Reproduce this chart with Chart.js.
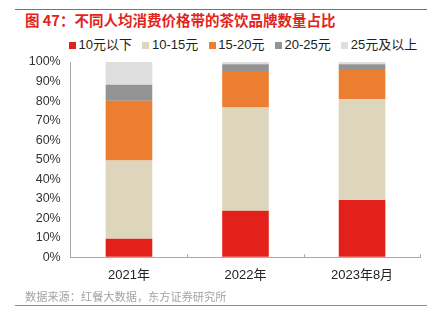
<!DOCTYPE html>
<html>
<head>
<meta charset="utf-8">
<script src="https://cdn.jsdelivr.net/npm/chart.js@4/dist/chart.umd.min.js"></script>
<style>
    body { margin: 0; background: #fff; font-family: "Liberation Sans", "Noto Sans CJK SC", sans-serif; }
    #wrap { position: relative; width: 443px; height: 323px; overflow: hidden; }
    #chart { position: absolute; left: 0; top: 0; }
    .rule { position: absolute; left: 15px; width: 412px; height: 1px; }
    #title { position: absolute; left: 25px; top: 10px; font: bold 14.5px "Noto Sans CJK SC", sans-serif; color: #e3241c; line-height: 20px; white-space: nowrap; }
    #legend { position: absolute; left: 69px; top: 37px; display: flex; font-size: 13px; color: #222; line-height: 16px; white-space: nowrap; }
    #legend span.item { display: flex; align-items: center; margin-right: 10.5px; }
    #legend i { display: inline-block; width: 7px; height: 7px; margin-right: 2.5px; }
    #source { position: absolute; left: 25px; top: 288px; font: 11.2px "Noto Sans CJK SC", sans-serif; color: #a3a3a3; line-height: 16px; white-space: nowrap; }
</style>
</head>
<body>
<div id="wrap">
    <div class="rule" style="top:9px;background:#e5453c;"></div>
    <div id="title">图 47：不同人均消费价格带的茶饮品牌数量占比</div>
    <div id="legend"></div>
    <canvas id="chart" width="443" height="323"></canvas>
    <div id="source">数据来源：红餐大数据，东方证券研究所</div>
    <div class="rule" style="top:305px;background:#ec6a64;"></div>
</div>
<script>
// categories and shares (%) per price band
const categories = ['2021年', '2022年', '2023年8月'];
const bandNames = ['10元以下', '10-15元', '15-20元', '20-25元', '25元及以上'];
const bandColors = ['#e2211a', '#ded5bd', '#ec7e31', '#939393', '#dedede'];
const under10 = [9.5, 23.8, 29.3];
const from10to15 = [40.1, 52.9, 51.6];
const from15to20 = [30.5, 18.7, 15.5];
const from20to25 = [8.3, 3.4, 2.4];
const over25 = [11.6, 1.2, 1.2];
const yTicks = [0, 10, 20, 30, 40, 50, 60, 70, 80, 90, 100];

const bandValues = [under10, from10to15, from15to20, from20to25, over25];

// legend
const legend = document.getElementById('legend');
bandNames.forEach((name, i) => {
    const item = document.createElement('span');
    item.className = 'item';
    item.innerHTML = '<i style="background:' + bandColors[i] + '"></i>' + name;
    legend.appendChild(item);
});

// short upward tick marks on the category boundaries
const boundaryTicks = {
    id: 'boundaryTicks',
    afterDraw(chart) {
        const x = chart.scales.x;
        const ctx = chart.ctx;
        const step = (x.right - x.left) / categories.length;
        ctx.save();
        ctx.strokeStyle = '#a9a9a9';
        ctx.lineWidth = 1;
        for (let i = 1; i <= categories.length; i++) {
            const px = Math.round(x.left + i * step) + 0.5;
            ctx.beginPath();
            ctx.moveTo(px, x.top);
            ctx.lineTo(px, x.top - 3);
            ctx.stroke();
        }
        ctx.restore();
    }
};

const ctx = document.getElementById('chart').getContext('2d');
new Chart(ctx, {
    type: 'bar',
    data: {
        labels: categories,
        datasets: bandNames.map((name, i) => ({
            label: name,
            data: bandValues[i],
            backgroundColor: bandColors[i],
            borderWidth: 0,
            barPercentage: 0.4,
            categoryPercentage: 1,
        })),
    },
    options: {
        responsive: false,
        animation: false,
        events: [],
        layout: { padding: { top: 62, right: 22.7, bottom: 0, left: 0 } },
        plugins: {
            legend: { display: false },
            tooltip: { enabled: false },
        },
        scales: {
            x: {
                stacked: true,
                afterFit(scale) { scale.height = 65.7; },
                grid: { display: true, drawOnChartArea: false, drawTicks: false },
                border: { color: '#a9a9a9', width: 1 },
                ticks: {
                    padding: 10,
                    color: '#222',
                    font: { size: 13, family: '"Liberation Sans", "Noto Sans CJK SC", sans-serif' },
                },
            },
            y: {
                stacked: true,
                min: 0,
                max: 100,
                afterFit(scale) { scale.width = 70.7; },
                afterBuildTicks(scale) { scale.ticks = yTicks.map(v => ({ value: v })); },
                grid: { display: true, drawOnChartArea: false, drawTicks: false },
                border: { color: '#a9a9a9', width: 1 },
                ticks: {
                    padding: 10,
                    color: '#333',
                    font: { size: 12.5, family: '"Liberation Sans", sans-serif' },
                    callback: v => v + '%',
                },
            },
        },
    },
    plugins: [boundaryTicks],
});
</script>
</body>
</html>
